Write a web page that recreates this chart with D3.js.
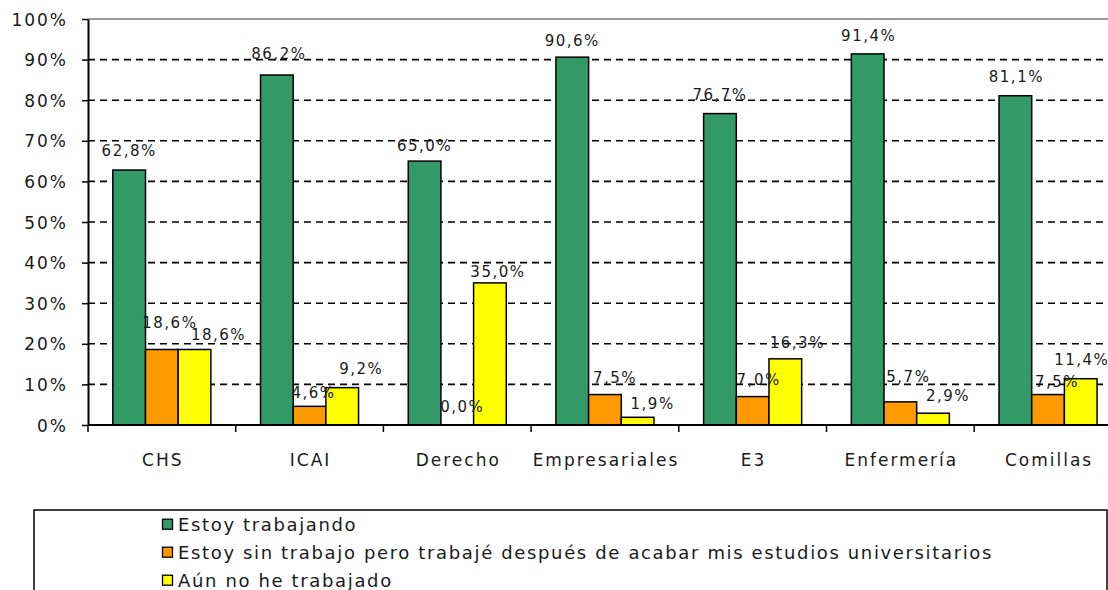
<!DOCTYPE html>
<html>
<head>
<meta charset="utf-8">
<script src="https://cdn.jsdelivr.net/npm/d3@7"></script>
<style>
  body { margin: 0; background: #fff; }
  svg { display: block; font-family: "DejaVu Sans", Verdana, sans-serif; }
</style>
</head>
<body>
<svg id="chart" width="1108" height="590"></svg>
<script>
let categories = ["CHS", "ICAI", "Derecho", "Empresariales", "E3", "Enfermería", "Comillas"]
let seriesNames = [
  "Estoy trabajando",
  "Estoy sin trabajo pero trabajé después de acabar mis estudios universitarios",
  "Aún no he trabajado"
]
let trabajando = [62.8, 86.2, 65.0, 90.6, 76.7, 91.4, 81.1]
let sinTrabajo = [18.6, 4.6, 0.0, 7.5, 7.0, 5.7, 7.5]
let noTrabajado = [18.6, 9.2, 35.0, 1.9, 16.3, 2.9, 11.4]
let yTicks = [0, 10, 20, 30, 40, 50, 60, 70, 80, 90, 100]

// label nudges (px) the original layout applied, per series then category
let labelDx = [
  [0, 2, 0, 0, 0, 1, 1],
  [8, 4, 5, 10, 6, 8, 9],
  [24, 19, 8, 15, 12, 15, 1]
]
let labelGap = [
  [14, 16, 10, 11, 14, 13, 14],
  [21, 8, 13, 12, 12, 20, 8],
  [9, 14, 6, 8, 11, 12, 14]
]

let colors = ["#339966", "#ff9900", "#ffff00"]
let seriesValues = [trabajando, sinTrabajo, noTrabajado]

let svg = d3.select("#chart")
let plotLeft = 88, plotTop = 19, plotBottom = 425, step = 147.7

let x = d3.scaleBand().domain(categories).range([plotLeft, plotLeft + step * categories.length])
let x1 = d3.scaleBand().domain([0, 1, 2]).range([0, x.bandwidth()]).paddingOuter(0.76)
let y = d3.scaleLinear().domain([0, 100]).range([plotBottom, plotTop])

// grid
svg.append("g").selectAll("line")
  .data(yTicks.filter(d => d > 0)).enter()
  .append("line")
  .attr("x1", plotLeft).attr("x2", 1108)
  .attr("y1", d => y(d)).attr("y2", d => y(d))
  .attr("stroke", d => d === 100 ? "#9a9a9a" : "#000")
  .attr("stroke-width", d => d === 100 ? 2 : 1.6)
  .attr("stroke-dasharray", d => d === 100 ? null : "7,5")

// bars
let bars = []
categories.forEach((c, i) => {
  seriesValues.forEach((vals, s) => bars.push({cat: c, i: i, s: s, v: vals[i]}))
})

svg.append("g").selectAll("rect")
  .data(bars).enter()
  .append("rect")
  .attr("x", d => x(d.cat) + x1(d.s))
  .attr("width", x1.bandwidth())
  .attr("y", d => y(d.v))
  .attr("height", d => y(0) - y(d.v))
  .attr("fill", d => colors[d.s])
  .attr("stroke", "#000")
  .attr("stroke-width", 1.5)

// y axis
let yAxis = svg.append("g")
  .attr("transform", `translate(${plotLeft},0)`)
  .call(d3.axisLeft(y).tickValues(yTicks).tickSize(6).tickSizeOuter(0).tickFormat(d => d + "%"))
yAxis.select(".domain").attr("stroke", "#000").attr("stroke-width", 2)
yAxis.selectAll(".tick line").attr("stroke", "#000").attr("stroke-width", 1.5)
yAxis.selectAll(".tick text")
  .attr("x", -20)
  .attr("dy", "0.36em")
  .attr("fill", "#1a1a1a")
  .style("font-size", "17px")
  .style("letter-spacing", "2px")
  .style("font-family", "'DejaVu Sans', Verdana, sans-serif")

// x axis
let bounds = categories.map(c => x(c))
svg.append("line")
  .attr("x1", plotLeft).attr("x2", 1108)
  .attr("y1", plotBottom).attr("y2", plotBottom)
  .attr("stroke", "#000").attr("stroke-width", 2)
svg.append("g").selectAll("line")
  .data(bounds).enter()
  .append("line")
  .attr("x1", d => d).attr("x2", d => d)
  .attr("y1", plotBottom).attr("y2", plotBottom + 7)
  .attr("stroke", "#000").attr("stroke-width", 1.5)
svg.append("g").selectAll("text")
  .data(categories).enter()
  .append("text")
  .attr("x", d => x(d) + x.bandwidth() / 2 + 1)
  .attr("y", 466)
  .attr("text-anchor", "middle")
  .attr("fill", "#1a1a1a")
  .style("font-size", "17px")
  .style("letter-spacing", "2px")
  .text(d => d)

// value labels
let fmt = v => d3.format(".1f")(v).replace(".", ",") + "%"
svg.append("g").selectAll("text")
  .data(bars).enter()
  .append("text")
  .attr("x", d => x(d.cat) + x1(d.s) + x1.bandwidth() / 2 + labelDx[d.s][d.i])
  .attr("y", d => y(d.v) - labelGap[d.s][d.i])
  .attr("text-anchor", "middle")
  .attr("fill", "#1a1a1a")
  .style("font-size", "15px")
  .style("letter-spacing", "1.5px")
  .text(d => fmt(d.v))

// legend
svg.append("rect")
  .attr("x", 34).attr("y", 510)
  .attr("width", 1073).attr("height", 100)
  .attr("fill", "#fff")
  .attr("stroke", "#000").attr("stroke-width", 1.5)

let rowY = d3.scalePoint().domain([0, 1, 2]).range([524.7, 580.7])
let leg = svg.append("g").selectAll("g")
  .data(seriesNames).enter()
  .append("g")
  .attr("transform", (d, i) => `translate(0,${rowY(i)})`)
leg.append("rect")
  .attr("x", 162.5).attr("y", -5.5)
  .attr("width", 10).attr("height", 10)
  .attr("fill", (d, i) => colors[i])
  .attr("stroke", "#000").attr("stroke-width", 1.3)
let legText = leg.append("text")
  .attr("x", 178).attr("dy", "0.36em")
  .attr("fill", "#1a1a1a")
  .style("font-size", "18px")
  .text(d => d)

// stretch legend text spacing so the long row matches the original width
let longLen = legText.nodes()[1].getComputedTextLength()
let ls = (815 - longLen) / seriesNames[1].length
legText.style("letter-spacing", ls + "px")
</script>
</body>
</html>
